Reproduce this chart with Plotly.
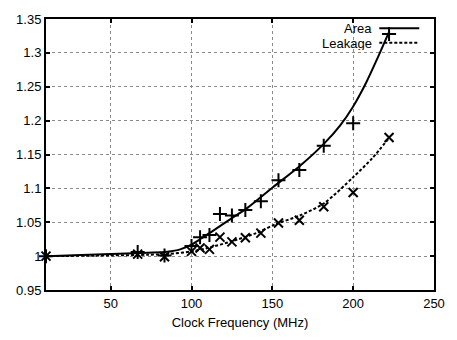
import plotly.graph_objects as go

# Measured data points
freq = [10, 66.7, 83.3, 100, 105.3, 111.1, 117.6, 125, 133.3, 142.9, 153.8, 166.7, 181.8, 200, 222.2]
area = [1.000, 1.006, 1.001, 1.015, 1.028, 1.031, 1.062, 1.060, 1.068, 1.081, 1.112, 1.127, 1.163, 1.196, 1.328]
leakage = [1.000, 1.003, 0.999, 1.007, 1.012, 1.010, 1.028, 1.021, 1.027, 1.034, 1.049, 1.053, 1.073, 1.094, 1.175]

# Fitted curves
area_fit_x = [10, 50, 73, 85, 93, 100, 106, 113, 125, 135, 150, 167, 182, 192, 200, 208, 215, 222]
area_fit_y = [1.000, 1.003, 1.005, 1.0065, 1.010, 1.017, 1.026, 1.037, 1.056, 1.072, 1.101, 1.133, 1.166, 1.193, 1.221, 1.256, 1.292, 1.330]
leak_fit_x = [10, 50, 73, 85, 100, 110, 125, 140, 152, 167, 182, 200, 212, 222.2]
leak_fit_y = [1.000, 1.001, 1.002, 1.003, 1.007, 1.012, 1.022, 1.034, 1.047, 1.060, 1.078, 1.1165, 1.145, 1.1745]

x_ticks = [50, 100, 150, 200, 250]
y_ticks = [0.95, 1.0, 1.05, 1.1, 1.15, 1.2, 1.25, 1.3, 1.35]
y_labels = ["0.95", "1", "1.05", "1.1", "1.15", "1.2", "1.25", "1.3", "1.35"]

FONT = "Liberation Sans, Arial, sans-serif"

fig = go.Figure()
fig.add_trace(go.Scatter(x=area_fit_x, y=area_fit_y, mode="lines",
                         line=dict(color="black", width=2, shape="spline", smoothing=0.8),
                         showlegend=False, hoverinfo="skip"))
fig.add_trace(go.Scatter(x=leak_fit_x, y=leak_fit_y, mode="lines",
                         line=dict(color="black", width=2, shape="spline", smoothing=0.8, dash="3px,2px"),
                         showlegend=False, hoverinfo="skip"))
fig.add_trace(go.Scatter(x=freq, y=area, mode="markers", name="Area",
                         marker=dict(symbol="cross-thin", size=10, line=dict(color="black", width=2)),
                         showlegend=False, cliponaxis=False))
fig.add_trace(go.Scatter(x=freq, y=leakage, mode="markers", name="Leakage",
                         marker=dict(symbol="x-thin", size=9, line=dict(color="black", width=2)),
                         showlegend=False, cliponaxis=False))

# Manual legend (text left of sample, gnuplot style)
legend_items = [("Area", "solid", 0.966), ("Leakage", "3px,2px", 0.912)]
for label, dash, yp in legend_items:
    fig.add_annotation(x=0.842, y=yp, xref="paper", yref="paper", text=label,
                       showarrow=False, xanchor="right", yanchor="middle",
                       height=14, borderpad=0,
                       font=dict(family=FONT, size=13, color="black"))
    fig.add_shape(type="line", xref="paper", yref="paper", x0=0.859, x1=0.962, y0=yp, y1=yp,
                  line=dict(color="black", width=2, dash=dash))

axis_common = dict(showline=True, linecolor="black", linewidth=2, mirror="ticks",
                   ticks="inside", ticklen=4, tickwidth=2, tickcolor="black",
                   showgrid=True, gridcolor="#8a8a8a", griddash="dot", gridwidth=1,
                   zeroline=False, tickfont=dict(family=FONT, size=13, color="black"))

fig.update_xaxes(range=[10, 250], tickvals=x_ticks, **axis_common,
                 title=dict(text="Clock Frequency (MHz)", font=dict(family=FONT, size=13, color="black"), standoff=8))
fig.update_yaxes(range=[0.95, 1.35], tickvals=y_ticks, ticktext=y_labels, **axis_common)

fig.update_layout(width=457, height=340, margin=dict(l=46, r=15, t=16, b=43),
                  paper_bgcolor="white", plot_bgcolor="white",
                  font=dict(family=FONT, size=13, color="black"))

fig.write_html("out.html", config={"displayModeBar": False},
               post_script="document.body.style.margin='0';")
